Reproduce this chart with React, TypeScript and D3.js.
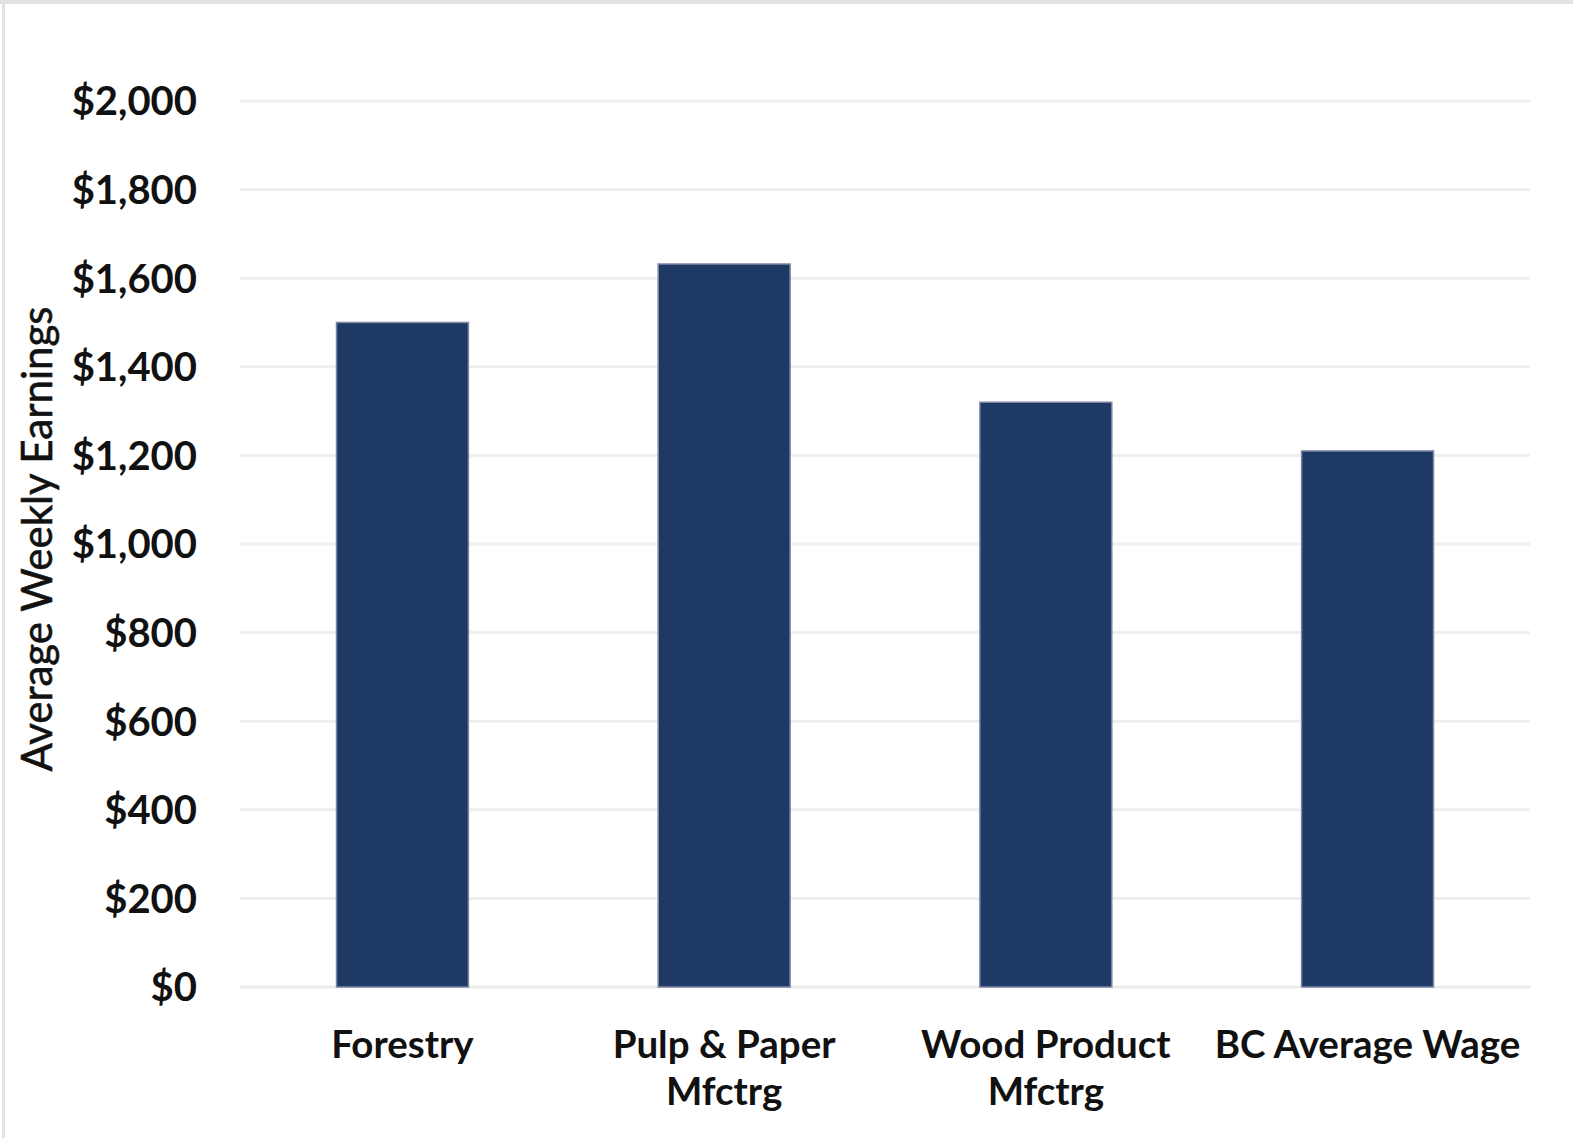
import React from "react";
import * as d3 from "d3";

const categories: string[][] = [
  ["Forestry"],
  ["Pulp & Paper", "Mfctrg"],
  ["Wood Product", "Mfctrg"],
  ["BC Average Wage"],
];
const values: number[] = [1500, 1632, 1320, 1210];
const yTicks: number[] = [0, 200, 400, 600, 800, 1000, 1200, 1400, 1600, 1800, 2000];
const yTitle = "Average Weekly Earnings";

const W = 1573;
const H = 1138;
const FONT = "Lato, 'Open Sans', sans-serif";

export default function App() {
  const left = 240;
  const right = 1530;
  const top = 101;
  const bottom = 987;

  const x = d3
    .scaleBand<number>()
    .domain(values.map((_, i) => i))
    .range([left, right])
    .paddingInner(0.59)
    .paddingOuter(0.3);
  const y = d3.scaleLinear().domain([0, 2000]).range([bottom, top]);
  const fmt = (v: number) => "$" + d3.format(",")(v);

  return (
    <svg
      width={W}
      height={H}
      style={{ position: "absolute", left: 0, top: 0, background: "#fff" }}
    >
      <rect x={0} y={0} width={W} height={H} fill="#fff" />
      {/* border */}
      <rect x={0} y={0} width={W} height={4} fill="#e2e2e2" />
      <rect x={2} y={0} width={3} height={H} fill="#e2e2e2" />

      {/* gridlines */}
      {yTicks.map((t) => (
        <line
          key={"g" + t}
          x1={left}
          x2={right}
          y1={y(t)}
          y2={y(t)}
          stroke={t === 0 ? "#ececec" : "#efefef"}
          strokeWidth={3}
        />
      ))}

      {/* y tick labels */}
      {yTicks.map((t) => (
        <text
          key={"t" + t}
          x={197}
          y={y(t)}
          dy="0.36em"
          textAnchor="end"
          fontFamily={FONT}
          fontWeight={700}
          fontSize={40}
          fill="#111"
        >
          {fmt(t)}
        </text>
      ))}

      {/* bars */}
      {values.map((v, i) => (
        <rect
          key={"b" + i}
          x={x(i)!}
          y={y(v)}
          width={x.bandwidth()}
          height={y(0) - y(v)}
          fill="#1e3a64"
          stroke="#7e84a4"
          strokeWidth={1.5}
        />
      ))}

      {/* x labels */}
      {categories.map((lines, i) => (
        <text
          key={"x" + i}
          x={x(i)! + x.bandwidth() / 2}
          y={1058}
          textAnchor="middle"
          fontFamily={FONT}
          fontWeight={700}
          fontSize={38.5}
          fill="#111"
        >
          {lines.map((l, j) => (
            <tspan key={j} x={x(i)! + x.bandwidth() / 2} dy={j === 0 ? 0 : 47}>
              {l}
            </tspan>
          ))}
        </text>
      ))}

      {/* y axis title */}
      <text
        transform={`translate(52, 539) rotate(-90)`}
        textAnchor="middle"
        fontFamily={FONT}
        fontWeight={400}
        fontSize={42}
        fill="#111"
        stroke="#111"
        strokeWidth={0.6}
      >
        {yTitle}
      </text>
    </svg>
  );
}
